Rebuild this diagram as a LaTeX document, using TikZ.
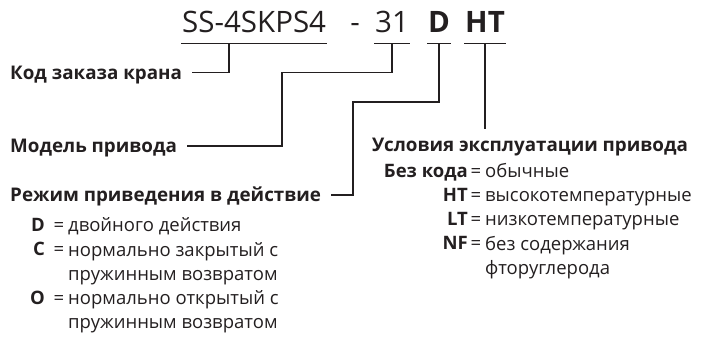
\documentclass[tikz,border=0pt]{standalone}
\usepackage{fontspec}
\setmainfont{Open Sans}
\definecolor{ink}{RGB}{35,31,32}
\begin{document}
\begin{tikzpicture}[x=1pt, y=-1pt, color=ink,
  part/.style={font=\fontsize{29.5}{34}\selectfont, inner xsep=1pt, inner ysep=0pt, text depth=10pt, anchor=base west},
  head/.style={font=\bfseries\fontsize{18.8}{22}\selectfont, inner xsep=10pt, inner ysep=0pt, text height=13.4pt, text depth=0pt, anchor=west},
  key/.style={font=\bfseries\fontsize{18.5}{24}\selectfont, inner sep=0pt, anchor=base east},
  desc/.style={font=\fontsize{18.5}{24}\selectfont, inner sep=0pt, anchor=base west, align=left},
  eq/.style={font=\fontsize{18.5}{24}\selectfont, inner sep=0pt, anchor=base},
  wire/.style={line width=1.3pt}]

\useasboundingbox (0,0) rectangle (711,344);

\node[part] (code) at (181,33) {SS-4SKPS4};
\node[part, anchor=base] (dash) at (355,33) {-};
\node[part] (model) at (374,33) {31};
\node[part] (act) at (427,33) {\bfseries D};
\node[part] (env) at (464,33) {\bfseries HT};

\foreach \p in {code,model,act,env}
\draw[wire] (\p.south west) -- (\p.south east);

\node[head] (Lcode) at (0,72.5) {Код заказа крана};
\node[head] (Lmodel) at (0,146) {Модель привода};
\node[head] (Lact) at (0,195) {Режим приведения в действие};
\node[head, outer ysep=9pt] (Lenv) at (362,144.5) {Условия эксплуатации привода};

\draw[wire] ([xshift=48pt]code.south west) |- (Lcode.east);
\draw[wire] (model.south) |- (282,72.5) |- (Lmodel.east);
\draw[wire] (act.south) |- (353,102) |- (Lact.east);
\draw[wire] (env.south) -- (env.south |- Lenv.north);

\node[key] (K1) at (45,232) {D};
\node[key] (K2) at (45,256) {C};
\node[key] (K3) at (45,304) {O};
\foreach \i/\y in {1/232,2/256,3/304}
\node[eq] (E\i) at (59,\y) {=};
\node[desc] (D1) at (68,232) {двойного действия};
\node[desc] (D2) at (68,280) {нормально закрытый с\\пружинным возвратом};
\node[desc] (D3) at (68,328) {нормально открытый с\\пружинным возвратом};

\node[key] (K4) at (468,178) {Без кода};
\node[key] (K5) at (468,202) {HT};
\node[key] (K6) at (468,226) {LT};
\node[key] (K7) at (468,250) {NF};
\foreach \i/\y in {4/178,5/202,6/226,7/250}
\node[eq] (E\i) at (476,\y) {=};
\node[desc] (D4) at (485,178) {обычные};
\node[desc] (D5) at (485,202) {высокотемпературные};
\node[desc] (D6) at (485,226) {низкотемпературные};
\node[desc] (D7) at (485,274) {без содержания\\фторуглерода};

\end{tikzpicture}
\end{document}
